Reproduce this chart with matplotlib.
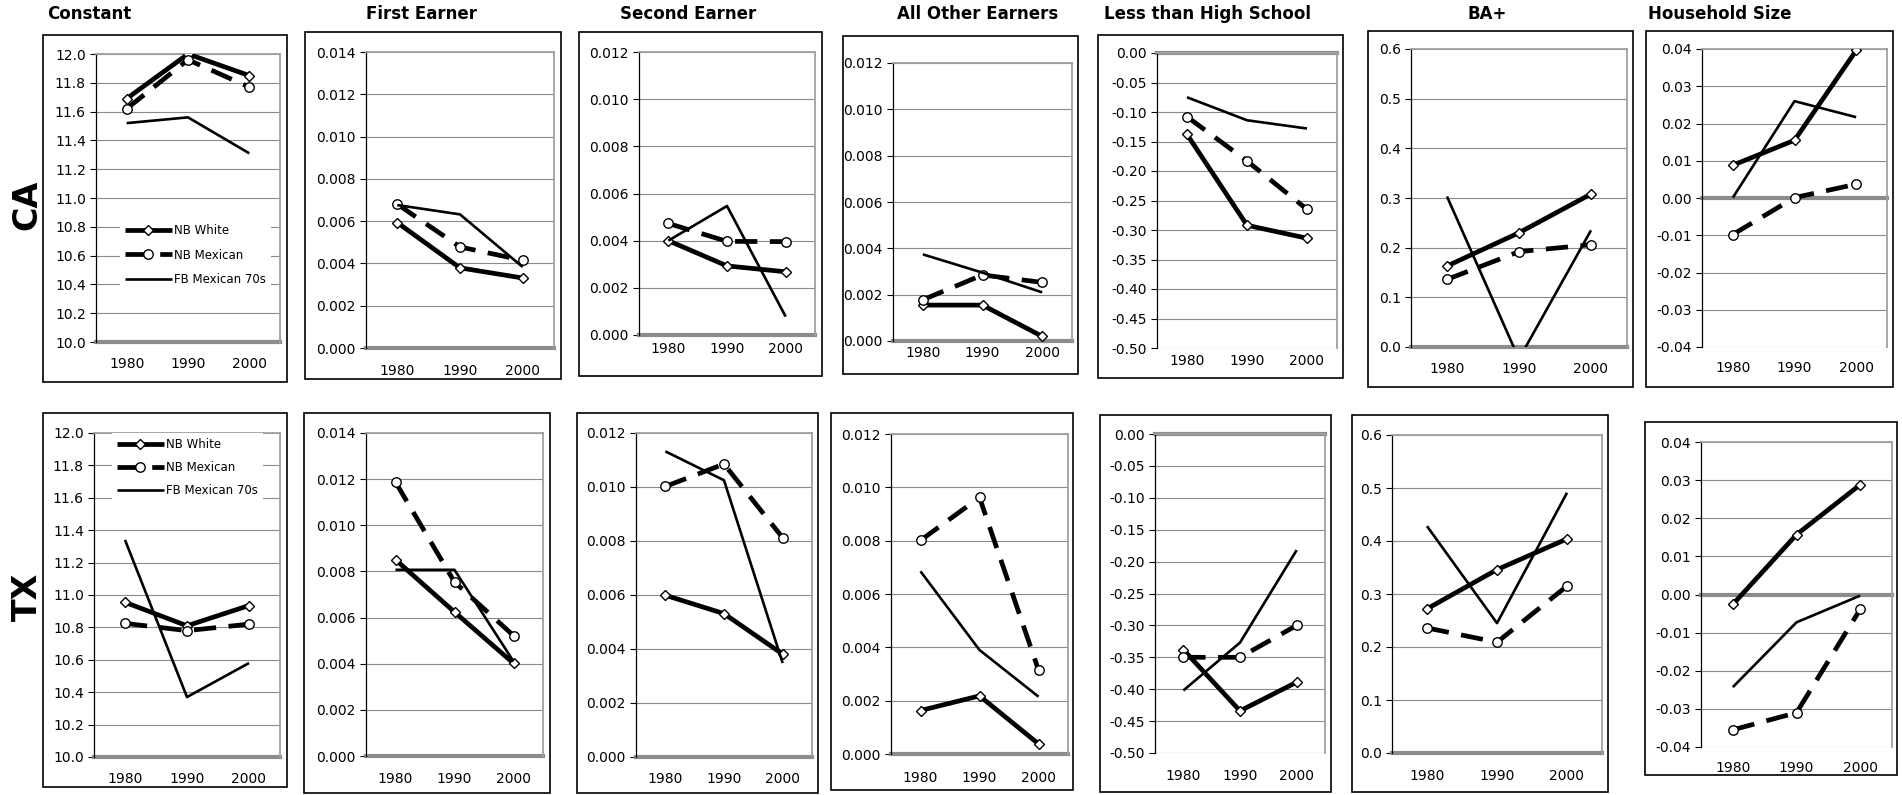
import matplotlib
matplotlib.use("Agg")
import matplotlib.pyplot as plt
from matplotlib.lines import Line2D
from matplotlib.patches import Rectangle
from matplotlib.ticker import FixedLocator, FormatStrFormatter
import numpy as np

plt.rcParams['font.family'] = ['DejaVu Sans']
plt.rcParams['axes.unicode_minus'] = False
plt.rcParams['lines.scale_dashes'] = False

W, H = 1902, 795

years = ['1980', '1990', '2000']
series = ['NB White', 'NB Mexican', 'FB Mexican 70s']
panels = ['Constant', 'First Earner', 'Second Earner', 'All Other Earners',
          'Less than High School', 'BA+', 'Household Size']
states = ['CA', 'TX']

# Coefficient estimates; rows: NB White, NB Mexican, FB Mexican 70s
ca_constant = [[11.69, 12.00, 11.85], [11.62, 11.96, 11.77], [11.52, 11.56, 11.31]]
tx_constant = [[10.955, 10.81, 10.935], [10.825, 10.78, 10.82], [11.34, 10.37, 10.58]]
ca_first = [[0.00593, 0.00379, 0.00331], [0.00680, 0.00478, 0.00415], [0.00676, 0.00632, 0.00383]]
tx_first = [[0.00851, 0.00624, 0.00402], [0.01187, 0.00754, 0.00522], [0.00807, 0.00807, 0.00410]]
ca_second = [[0.00400, 0.00293, 0.00268], [0.00473, 0.00397, 0.00396], [0.00400, 0.00547, 0.00078]]
tx_second = [[0.00599, 0.00531, 0.00381], [0.01002, 0.01085, 0.00812], [0.01132, 0.01025, 0.00348]]
ca_other = [[0.00155, 0.00155, 0.00020], [0.00178, 0.00285, 0.00253], [0.00374, 0.00295, 0.00210]]
tx_other = [[0.00163, 0.00218, 0.00038], [0.00801, 0.00962, 0.00315], [0.00685, 0.00390, 0.00215]]
ca_lths = [[-0.138, -0.292, -0.314], [-0.108, -0.183, -0.265], [-0.075, -0.114, -0.128]]
tx_lths = [[-0.338, -0.434, -0.389], [-0.350, -0.350, -0.300], [-0.402, -0.327, -0.182]]
ca_ba = [[0.163, 0.230, 0.308], [0.136, 0.192, 0.206], [0.303, -0.024, 0.235]]
tx_ba = [[0.272, 0.346, 0.404], [0.236, 0.209, 0.315], [0.428, 0.245, 0.491]]
ca_hhsize = [[0.0088, 0.0155, 0.0396], [-0.0098, 0.0001, 0.0037], [0.0001, 0.0260, 0.0217]]
tx_hhsize = [[-0.0026, 0.0157, 0.0288], [-0.0355, -0.0310, -0.0039], [-0.0243, -0.0073, -0.0003]]

panel_data = [
    [ca_constant, ca_first, ca_second, ca_other, ca_lths, ca_ba, ca_hhsize],
    [tx_constant, tx_first, tx_second, tx_other, tx_lths, tx_ba, tx_hhsize],
]

# value axis settings per variable
y_limits = [(10.0, 12.0), (0.0, 0.014), (0.0, 0.012), (0.0, 0.012), (-0.5, 0.0), (0.0, 0.6), (-0.04, 0.04)]
y_steps = [0.2, 0.002, 0.002, 0.002, 0.05, 0.1, 0.01]
y_formats = ['%.1f', '%.3f', '%.3f', '%.3f', '%.2f', '%.1f', '%.2f']
axis_cross = [10.0, 0.0, 0.0, 0.0, 0.0, 0.0, 0.0]

# plot-area rectangles (left, top, right, bottom) in pixels
plot_px = [
    [(96, 54, 280, 342), (366, 52, 554, 348), (639, 52, 815, 335), (893, 63, 1072, 341),
     (1157, 53, 1337, 348), (1411, 49, 1627, 347), (1702, 49, 1887, 347)],
    [(94, 433, 280, 757), (366, 433, 543, 756), (636, 433, 812, 757), (891, 434, 1068, 754),
     (1155, 434, 1325, 753), (1392, 435, 1602, 753), (1701, 442, 1892, 747)],
]
# chart frames (left, top, right, bottom) in pixels
frame_px = [
    [(43, 35, 287, 382), (305, 32, 561, 379), (579, 32, 822, 376), (843, 36, 1078, 374),
     (1098, 35, 1343, 378), (1368, 31, 1633, 387), (1646, 31, 1893, 387)],
    [(43, 413, 287, 787), (304, 413, 550, 793), (577, 413, 818, 793), (831, 413, 1073, 790),
     (1100, 415, 1331, 792), (1352, 415, 1608, 792), (1645, 422, 1897, 775)],
]
# distance from plot bottom to category-label centre, pixels
xlabel_offset = [[21, 22, 13, 11, 12, 21, 20], [21, 22, 21, 23, 22, 22, 20]]

title_x = [89, 422, 688, 978, 1207, 1487, 1720]
row_label_y = [205, 597]

styles = [
    dict(color='black', lw=3.4, ls='-', marker='D', ms=5.0, mfc='white', mec='black', mew=1.0),
    dict(color='black', lw=3.4, ls=(0, (16, 9)), marker='o', ms=6.8, mfc='white', mec='black', mew=1.0),
    dict(color='black', lw=1.9, ls='-', marker=None),
]

fig = plt.figure(figsize=(W / 100, H / 100), dpi=100)
fig.patch.set_facecolor('white')

x = np.array([0.5, 1.5, 2.5])

for r, state in enumerate(states):
    for c, name in enumerate(panels):
        L, T, R, B = plot_px[r][c]
        ax = fig.add_axes([L / W, 1 - B / H, (R - L) / W, (B - T) / H])
        lo, hi = y_limits[c]
        n = int(round((hi - lo) / y_steps[c]))
        ticks = np.round(np.linspace(lo, hi, n + 1), 6) + 0.0
        ax.set_ylim(lo, hi)
        ax.set_xlim(0, 3)
        ax.yaxis.set_major_locator(FixedLocator(ticks))
        ax.yaxis.set_major_formatter(FormatStrFormatter(y_formats[c]))
        ax.set_xticks(x)
        ax.set_xticklabels(years)
        off = xlabel_offset[r][c]
        ax.tick_params(axis='x', length=0, pad=(off - 6) * 0.72, labelsize=10)
        ax.tick_params(axis='y', direction='out', length=4.3, width=0.8, pad=3, labelsize=10)
        ax.grid(axis='y', color='#8a8a8a', lw=0.8)
        ax.set_axisbelow(True)
        for s in ('top', 'right'):
            ax.spines[s].set_color('#a0a0a0')
            ax.spines[s].set_linewidth(1.3)
        ax.spines['left'].set_color('black')
        ax.spines['left'].set_linewidth(0.9)
        ax.spines['bottom'].set_visible(False)
        ax.axhline(axis_cross[c], color='#8c8c8c', lw=3.0, zorder=2.5, clip_on=False)

        vals = panel_data[r][c]
        handles = []
        for k, sname in enumerate(series):
            st = styles[k]
            ln, = ax.plot(x, vals[k], color=st['color'], lw=st['lw'], ls=st['ls'],
                          marker=st['marker'], ms=st.get('ms', 0), mfc=st.get('mfc'),
                          mec=st.get('mec'), mew=st.get('mew', 0), zorder=3 + k,
                          dash_capstyle='butt', solid_capstyle='butt', label=sname)
            handles.append(ln)

        if c == 0:
            anchor = (120, 219) if r == 0 else (112, 433)
            spacing = 1.0 if r == 0 else 0.85
            leg = ax.legend(handles=handles, loc='upper left',
                            bbox_to_anchor=(anchor[0] / W, 1 - anchor[1] / H),
                            bbox_transform=fig.transFigure, fontsize=8.5,
                            frameon=True, fancybox=False, framealpha=1,
                            facecolor='white', edgecolor='none', borderaxespad=0,
                            borderpad=0.4, handlelength=4.0, handletextpad=0.2,
                            labelspacing=spacing, numpoints=1)
            leg.set_zorder(10)

        fL, fT, fR, fB = frame_px[r][c]
        fig.add_artist(Rectangle((fL / W, 1 - fB / H), (fR - fL) / W, (fB - fT) / H,
                                 transform=fig.transFigure, fill=False,
                                 edgecolor='black', lw=1.2))

for c, name in enumerate(panels):
    fig.text(title_x[c] / W, 1 - 14 / H, name, ha='center', va='center',
             fontsize=12, fontweight='bold')

for r, state in enumerate(states):
    fig.text(27 / W, 1 - row_label_y[r] / H, state, rotation=90, ha='center',
             va='center', fontsize=24, fontweight='bold')

fig.savefig('out.png', dpi=100, facecolor='white')
